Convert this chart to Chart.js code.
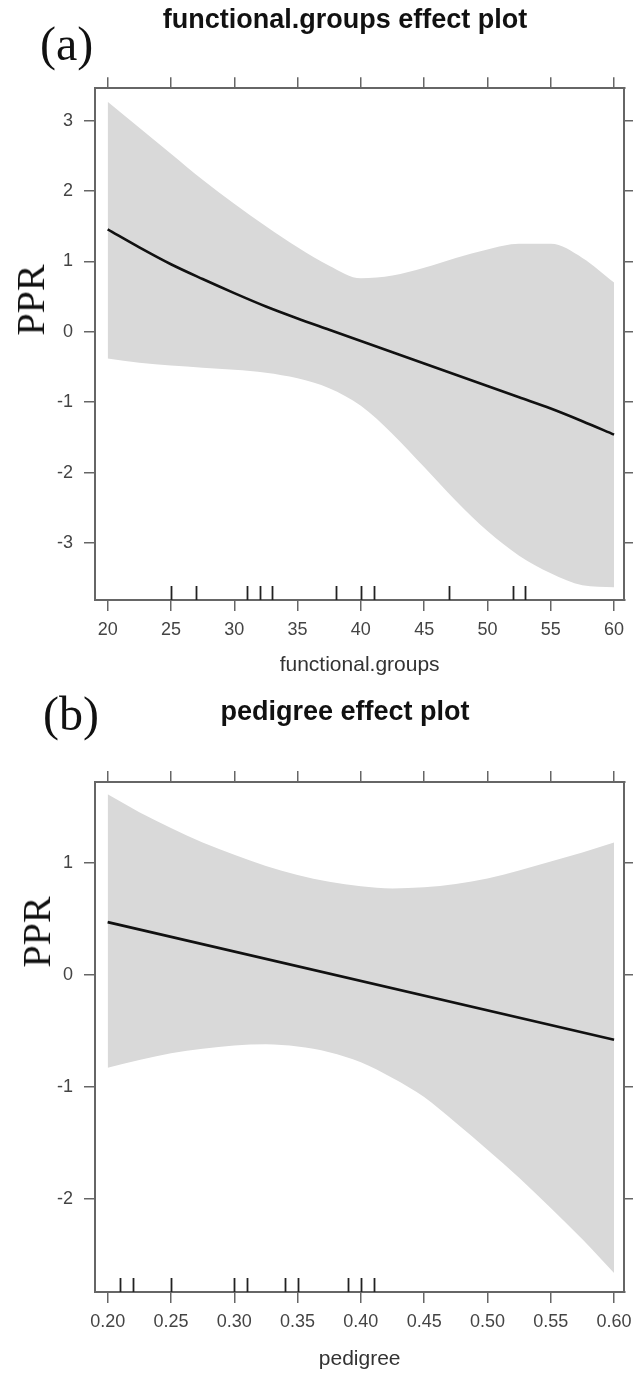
<!DOCTYPE html>
<html><head><meta charset="utf-8">
<script src="https://cdn.jsdelivr.net/npm/chart.js@4/dist/chart.umd.min.js"></script>
<style>
html,body{margin:0;padding:0;width:633px;height:1374px;overflow:hidden;background:#fff;}
.wrap{position:absolute;left:0;}
canvas{display:block;}
.tag{position:absolute;font-family:"Liberation Serif","Times New Roman",serif;font-size:48px;line-height:48px;color:#111;white-space:nowrap;}
.ylab{position:absolute;font-family:"Liberation Serif","Times New Roman",serif;font-size:40px;line-height:40px;color:#111;white-space:nowrap;transform:translate(-50%,-50%) rotate(-90deg);}
</style></head><body>
<div class="wrap" style="top:0px"><canvas id="cA" width="690" height="690" style="width:690px;height:690px"></canvas></div>
<div class="wrap" style="top:690px"><canvas id="cB" width="690" height="684" style="width:690px;height:684px"></canvas></div>
<div class="tag" style="left:40px;top:20px">(a)</div>
<div class="tag" style="left:43px;top:690px">(b)</div>
<div class="ylab" style="left:31px;top:300px">PPR</div>
<div class="ylab" style="left:37px;top:932px">PPR</div>
<script>
// ---------- panel (a): functional.groups ----------
const fgX     = [20, 22.5, 25, 27.5, 30, 32.5, 35, 37.5, 40, 42.5, 45, 47.5, 50, 52.5, 55, 57.5, 60];
const fgFit   = [1.455, 1.20, 0.96, 0.75, 0.55, 0.36, 0.19, 0.03, -0.13, -0.29, -0.45, -0.61, -0.77, -0.93, -1.09, -1.27, -1.46];
const fgUpper = [3.27, 2.90, 2.53, 2.16, 1.82, 1.50, 1.20, 0.94, 0.76, 0.80, 0.91, 1.05, 1.17, 1.25, 1.25, 1.05, 0.70];
const fgLower = [-0.38, -0.44, -0.48, -0.51, -0.54, -0.58, -0.66, -0.80, -1.05, -1.45, -1.92, -2.40, -2.83, -3.18, -3.43, -3.60, -3.63];
const fgRug   = [25, 27, 31, 32, 33, 38, 40, 41, 47, 52, 53];
const fgXTicks = [20, 25, 30, 35, 40, 45, 50, 55, 60];
const fgYTicks = [-3, -2, -1, 0, 1, 2, 3];

// ---------- panel (b): pedigree ----------
const pdX     = [0.20, 0.225, 0.25, 0.275, 0.30, 0.325, 0.35, 0.375, 0.40, 0.425, 0.45, 0.475, 0.50, 0.525, 0.55, 0.575, 0.60];
const pdUpper = [1.61, 1.45, 1.31, 1.18, 1.07, 0.97, 0.89, 0.83, 0.79, 0.77, 0.78, 0.81, 0.86, 0.93, 1.01, 1.09, 1.18];
const pdLower = [-0.83, -0.76, -0.70, -0.66, -0.63, -0.62, -0.64, -0.69, -0.78, -0.92, -1.09, -1.32, -1.56, -1.81, -2.08, -2.36, -2.66];
const pdFitX  = [0.20, 0.60];          // straight fitted line, read at its two ends
const pdFit   = [0.47, -0.58];
const pdRug   = [0.21, 0.22, 0.25, 0.30, 0.31, 0.34, 0.35, 0.39, 0.40, 0.41];
const pdXTicks = [0.20, 0.25, 0.30, 0.35, 0.40, 0.45, 0.50, 0.55, 0.60];
const pdYTicks = [-2, -1, 0, 1];

const SANS = '"Liberation Sans", Arial, Helvetica, sans-serif';

const rugPlugin = {
  id: 'rug',
  afterDatasetsDraw(chart, args, opts) {
    const {ctx, chartArea, scales} = chart;
    ctx.save();
    ctx.strokeStyle = opts.color;
    ctx.lineWidth = opts.width;
    opts.values.forEach(v => {
      const px = Math.round(scales.x.getPixelForValue(v)) + 0.5;
      ctx.beginPath();
      ctx.moveTo(px, chartArea.bottom);
      ctx.lineTo(px, chartArea.bottom - opts.length);
      ctx.stroke();
    });
    ctx.restore();
  }
};

function pts(xs, ys) { return xs.map((x, i) => ({x: x, y: ys[i]})); }

function makeChart(id, o) {
  const grid = {drawOnChartArea: false, drawTicks: true, tickLength: 11, color: '#666', lineWidth: 1.5};
  const border = {display: true, color: '#666', width: 2};
  const tickFont = {family: SANS, size: 18};
  const setX = s => { s.ticks = o.xTicks.map(v => ({value: v})); };
  const setY = s => { s.ticks = o.yTicks.map(v => ({value: v})); };
  return new Chart(document.getElementById(id), {
    type: 'line',
    data: {
      datasets: [
        {label: 'fit', data: pts(o.fitX, o.fit), borderColor: '#111', borderWidth: 2.6, pointRadius: 0, fill: false, tension: o.fitTension, cubicInterpolationMode: o.fitMode},
        {label: 'lower', data: pts(o.xs, o.lower), borderWidth: 0, borderColor: 'rgba(0,0,0,0)', pointRadius: 0, fill: false, cubicInterpolationMode: 'monotone'},
        {label: 'upper', data: pts(o.xs, o.upper), borderWidth: 0, borderColor: 'rgba(0,0,0,0)', pointRadius: 0, fill: '-1', backgroundColor: '#d9d9d9', cubicInterpolationMode: 'monotone'}
      ]
    },
    plugins: [rugPlugin],
    options: {
      responsive: false,
      animation: false,
      events: [],
      layout: {padding: 0},
      plugins: {
        legend: {display: false},
        tooltip: {enabled: false},
        title: {display: true, text: o.title, color: '#111', font: {family: SANS, size: 27, weight: 'bold'}, padding: {top: o.titleTop, bottom: 0}},
        rug: {values: o.rug, color: '#222', width: 1.8, length: 14}
      },
      scales: {
        x: {type: 'linear', position: 'bottom', min: o.xmin, max: o.xmax, grid: grid, border: border,
            afterBuildTicks: setX, afterFit: s => { s.height = o.bottomH; },
            ticks: {font: tickFont, color: '#444', padding: 8, maxRotation: 0, autoSkip: false, callback: v => o.xfmt(v)},
            title: {display: true, text: o.xtitle, color: '#333', font: {family: SANS, size: 21}, padding: {top: 0, bottom: o.xtitlePad}}},
        x2: {type: 'linear', position: 'top', min: o.xmin, max: o.xmax, grid: grid, border: border,
            afterBuildTicks: setX, afterFit: s => { s.height = o.topH; }, ticks: {display: false}},
        y: {type: 'linear', position: 'left', min: o.ymin, max: o.ymax, grid: grid, border: border,
            afterBuildTicks: setY, afterFit: s => { s.width = 95; },
            ticks: {font: tickFont, color: '#444', padding: 11, autoSkip: false, callback: v => String(v)},
            title: {display: false}},
        y2: {type: 'linear', position: 'right', min: o.ymin, max: o.ymax, grid: grid, border: border,
            afterBuildTicks: setY, afterFit: s => { s.width = 65.7; }, ticks: {display: false}}
      }
    }
  });
}

makeChart('cA', {
  title: 'functional.groups effect plot', titleTop: 4, topH: 51.9, bottomH: 90,
  xs: fgX, fit: fgFit, fitX: fgX, upper: fgUpper, lower: fgLower, rug: fgRug, fitTension: 0.4, fitMode: 'monotone',
  xTicks: fgXTicks, yTicks: fgYTicks, xmin: 19.0, xmax: 60.81, ymin: -3.81, ymax: 3.46,
  xtitle: 'functional.groups', xtitlePad: 12, xfmt: v => String(v)
});

makeChart('cB', {
  title: 'pedigree effect plot', titleTop: 6, topH: 53.6, bottomH: 82,
  xs: pdX, fit: pdFit, fitX: pdFitX, upper: pdUpper, lower: pdLower, rug: pdRug, fitTension: 0, fitMode: 'default',
  xTicks: pdXTicks, yTicks: pdYTicks, xmin: 0.190, xmax: 0.6081, ymin: -2.83, ymax: 1.72,
  xtitle: 'pedigree', xtitlePad: 2, xfmt: v => Number(v).toFixed(2)
});
</script>
</body></html>
